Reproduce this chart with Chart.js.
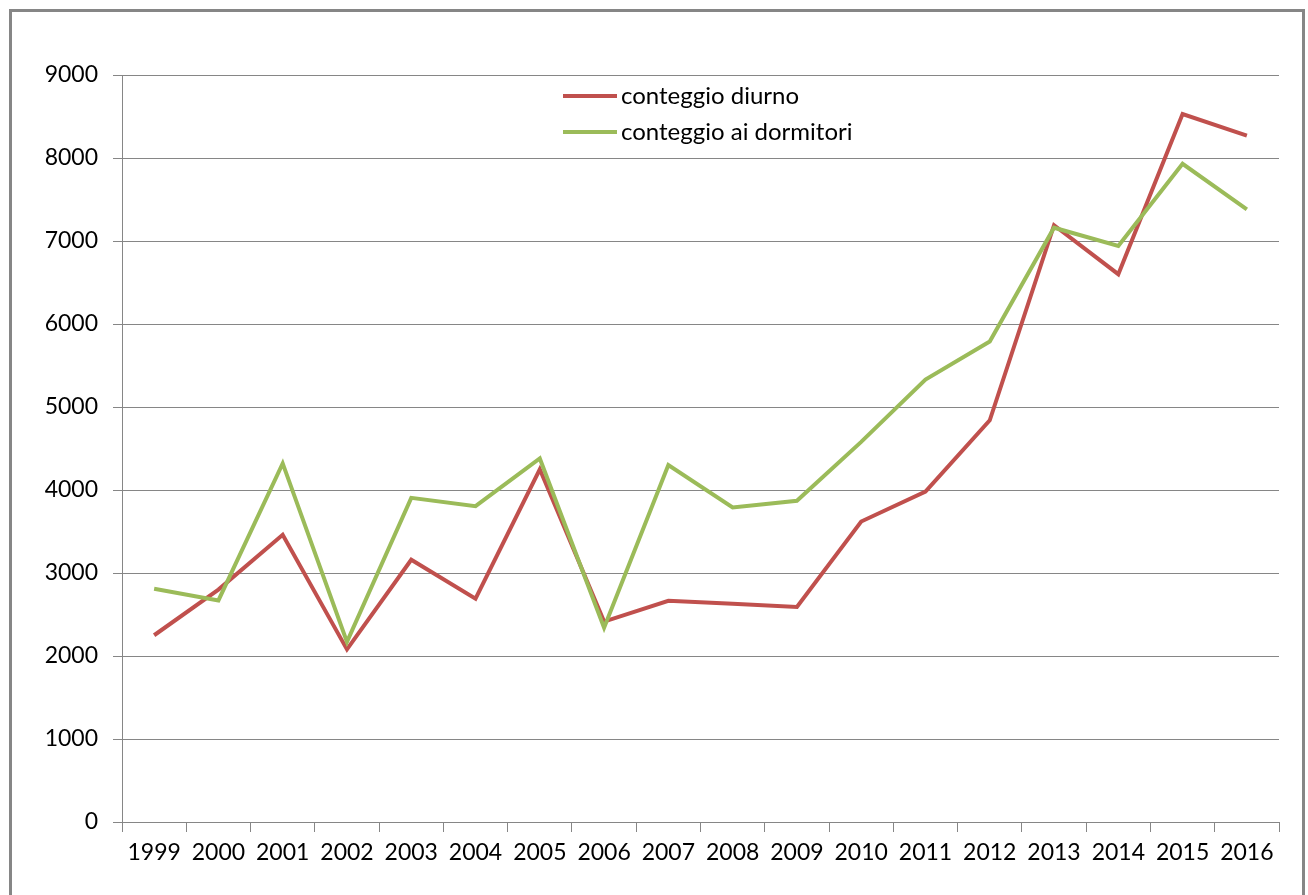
<!DOCTYPE html>
<html>
<head>
<meta charset="utf-8">
<script src="https://cdn.jsdelivr.net/npm/chart.js@4.4.1/dist/chart.umd.min.js"></script>
<style>
  html, body { margin: 0; padding: 0; background: #ffffff; }
  #wrap { width: 1308px; height: 895px; position: relative; }
  canvas { display: block; }
</style>
</head>
<body>
<div id="wrap"><canvas id="c" width="1308" height="895"></canvas></div>
<script>
const years = ["1999","2000","2001","2002","2003","2004","2005","2006","2007","2008","2009","2010","2011","2012","2013","2014","2015","2016"];
const conteggioDiurno = [2250, 2800, 3460, 2080, 3160, 2690, 4250, 2415, 2665, 2630, 2590, 3620, 3980, 4840, 7190, 6600, 8530, 8270];
const conteggioDormitori = [2810, 2670, 4320, 2170, 3905, 3805, 4380, 2340, 4300, 3790, 3870, 4580, 5330, 5790, 7160, 6940, 7930, 7380];
const seriesLabels = ["conteggio diurno", "conteggio ai dormitori"];
const yMin = 0, yMax = 9000, yStep = 1000;

const GRID = '#868686';
const FONT = 'Lato, "Open Sans", sans-serif';

const framePlugin = {
  id: 'frame',
  beforeDraw(chart) {
    const ctx = chart.ctx;
    ctx.save();
    ctx.fillStyle = '#ffffff';
    ctx.fillRect(0, 0, chart.width, chart.height);
    ctx.strokeStyle = GRID;
    ctx.lineWidth = 3;
    ctx.beginPath();
    ctx.moveTo(10.5, 900);
    ctx.lineTo(10.5, 10.5);
    ctx.lineTo(1303.5, 10.5);
    ctx.lineTo(1303.5, 900);
    ctx.stroke();
    ctx.restore();
  }
};

const legendPlugin = {
  id: 'innerLegend',
  afterDatasetsDraw(chart) {
    const ctx = chart.ctx;
    ctx.save();
    const x0 = 563, x1 = 617, tx = 621;
    const ys = [96, 132];
    chart.data.datasets.forEach((ds, i) => {
      const y = ys[i];
      ctx.strokeStyle = ds.borderColor;
      ctx.lineWidth = 4;
      ctx.beginPath();
      ctx.moveTo(x0, y);
      ctx.lineTo(x1, y);
      ctx.stroke();
      ctx.fillStyle = '#000000';
      ctx.font = '24px ' + FONT;
      ctx.textBaseline = 'middle';
      ctx.textAlign = 'left';
      ctx.fillText(ds.label, tx, y);
    });
    ctx.restore();
  }
};

new Chart(document.getElementById('c'), {
  type: 'line',
  data: {
    labels: years,
    datasets: [
      {
        label: seriesLabels[0],
        data: conteggioDiurno,
        borderColor: '#C0504D',
        backgroundColor: '#C0504D',
        borderWidth: 4,
        pointRadius: 0,
        tension: 0,
        order: 1
      },
      {
        label: seriesLabels[1],
        data: conteggioDormitori,
        borderColor: '#9BBB59',
        backgroundColor: '#9BBB59',
        borderWidth: 4,
        pointRadius: 0,
        tension: 0,
        order: 0
      }
    ]
  },
  options: {
    responsive: false,
    animation: false,
    devicePixelRatio: 1,
    layout: { padding: { top: 75, right: 29, left: 0, bottom: 0 } },
    plugins: {
      legend: { display: false },
      tooltip: { enabled: false },
      title: { display: false }
    },
    scales: {
      x: {
        offset: true,
        grid: {
          offset: true,
          drawOnChartArea: false,
          drawTicks: true,
          tickLength: 10,
          color: GRID,
          lineWidth: 1
        },
        border: { display: true, color: GRID, width: 1 },
        ticks: {
          color: '#000000',
          font: { family: FONT, size: 23 },
          padding: 7,
          maxRotation: 0,
          autoSkip: false
        },
        afterFit(scale) { scale.height = 73; }
      },
      y: {
        min: yMin,
        max: yMax,
        grid: {
          color: GRID,
          lineWidth: 1,
          drawTicks: true,
          tickLength: 9
        },
        border: { display: true, color: GRID, width: 1 },
        ticks: {
          stepSize: yStep,
          color: '#000000',
          font: { family: FONT, size: 23 },
          padding: 15,
          callback: (v) => String(v)
        },
        afterFit(scale) { scale.width = 122; }
      }
    }
  },
  plugins: [framePlugin, legendPlugin]
});
</script>
</body>
</html>
